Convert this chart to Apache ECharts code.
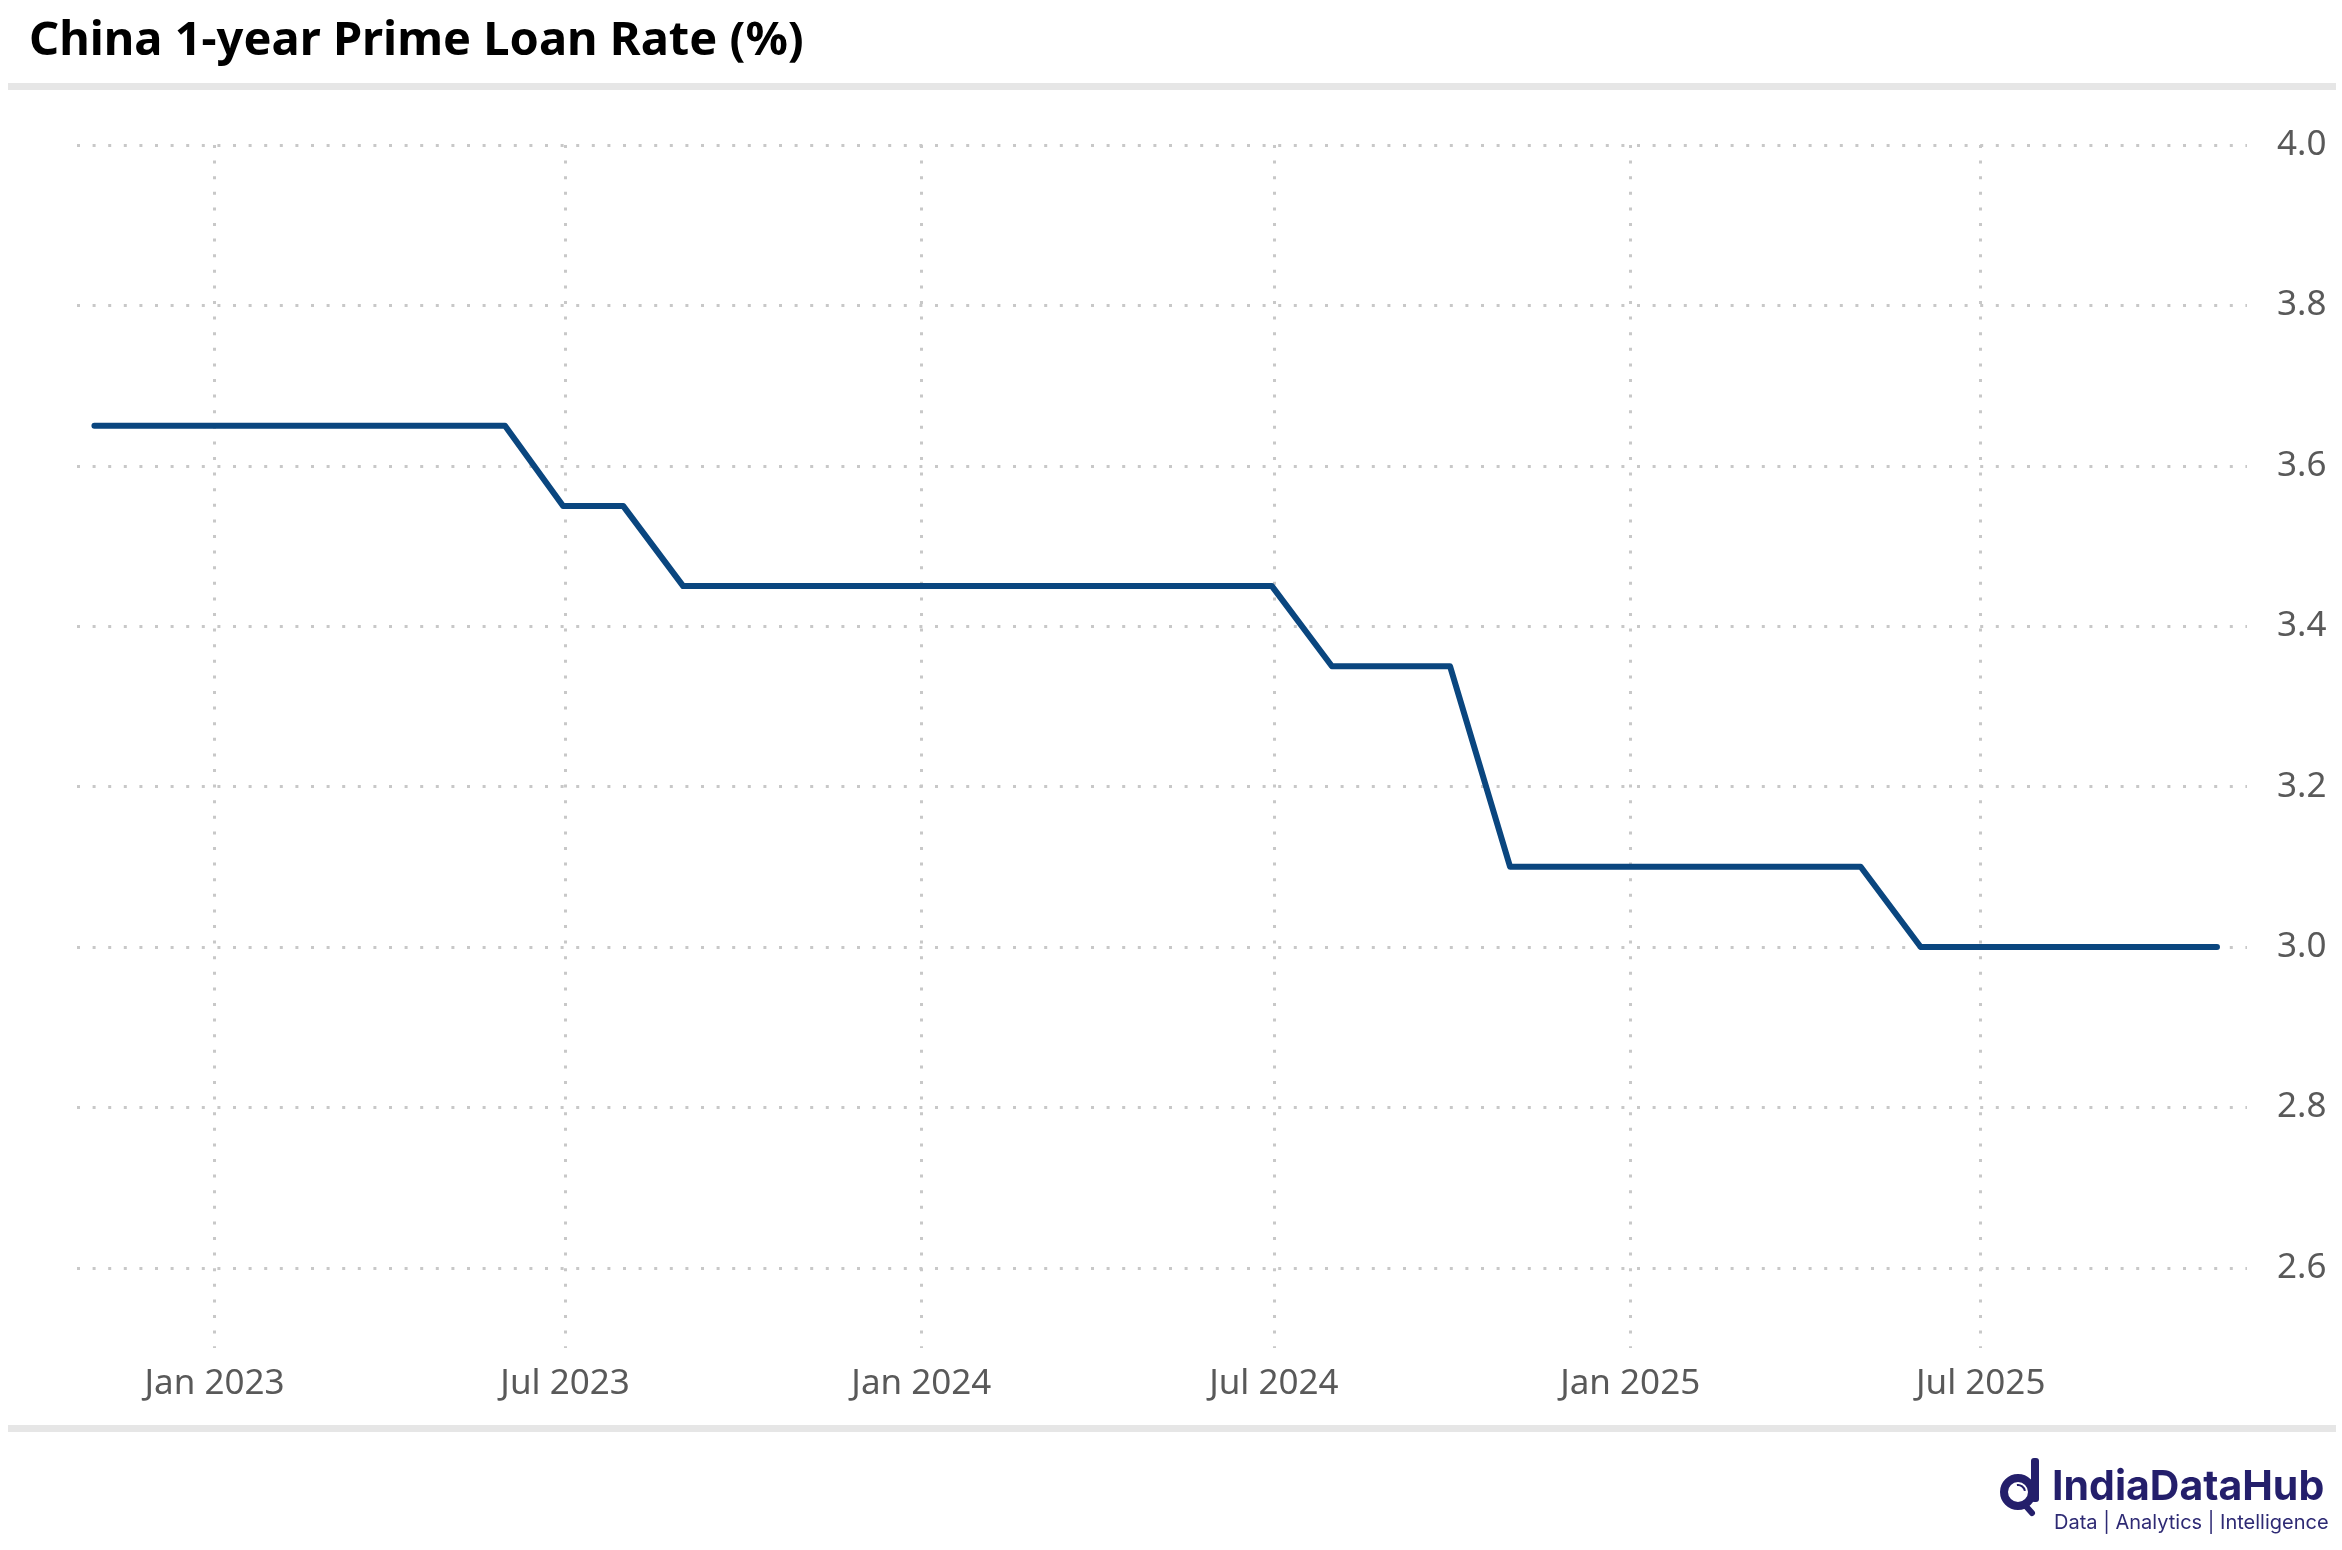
<!DOCTYPE html>
<html>
<head>
<meta charset="utf-8">
<script src="https://cdn.jsdelivr.net/npm/echarts@6/dist/echarts.min.js"></script>
<style>
html,body{margin:0;padding:0;background:#fff;}
#chart{width:2342px;height:1550px;}
</style>
</head>
<body>
<div id="chart"></div>
<script>
// ---- data ----
const titleText = 'China 1-year Prime Loan Rate (%)';
const dates = [
  '2022-10-31','2022-11-30','2022-12-31',
  '2023-01-31','2023-02-28','2023-03-31','2023-04-30','2023-05-31','2023-06-30',
  '2023-07-31','2023-08-31','2023-09-30','2023-10-31','2023-11-30','2023-12-31',
  '2024-01-31','2024-02-29','2024-03-31','2024-04-30','2024-05-31','2024-06-30',
  '2024-07-31','2024-08-31','2024-09-30','2024-10-31','2024-11-30','2024-12-31',
  '2025-01-31','2025-02-28','2025-03-31','2025-04-30','2025-05-31','2025-06-30',
  '2025-07-31','2025-08-31','2025-09-30','2025-10-31'
];
const rates = [
  3.65,3.65,3.65,
  3.65,3.65,3.65,3.65,3.65,3.55,
  3.55,3.45,3.45,3.45,3.45,3.45,
  3.45,3.45,3.45,3.45,3.45,3.45,
  3.35,3.35,3.35,3.10,3.10,3.10,
  3.10,3.10,3.10,3.10,3.00,3.00,
  3.00,3.00,3.00,3.00
];
const xTickDates = ['2023-01-01','2023-07-01','2024-01-01','2024-07-01','2025-01-01','2025-07-01'];
const xTickLabels = ['Jan 2023','Jul 2023','Jan 2024','Jul 2024','Jan 2025','Jul 2025'];
const yTickValues = [2.6, 2.8, 3.0, 3.2, 3.4, 3.6, 3.8, 4.0];
const xRange = ['2022-10-22T00:00:00Z','2025-11-15T12:00:00Z'];
const yRange = [2.5, 4.0];

// ---- build ----
function ts(s){ return s.length > 10 ? Date.parse(s) : Date.parse(s + 'T00:00:00Z'); }
const seriesData = dates.map((d, i) => [ts(d), rates[i]]);
const tickTs = xTickDates.map(ts);

const chart = echarts.init(document.getElementById('chart'), null, {renderer: 'canvas'});
const gridColor = '#c8c8c8';
const labelFont = '"Noto Sans", "Open Sans", sans-serif';
const navy = '#241f6b';

chart.setOption({
  animation: false,
  backgroundColor: '#ffffff',
  title: {
    text: titleText,
    left: 24, top: 13,
    textStyle: {fontFamily: labelFont, fontWeight: 700, fontSize: 47, color: '#000'}
  },
  grid: {left: 77, right: 95, top: 145, bottom: 202, containLabel: false},
  xAxis: {
    type: 'value',
    min: ts(xRange[0]), max: ts(xRange[1]),
    axisLine: {show: false},
    axisTick: {show: false, customValues: tickTs},
    axisLabel: {
      customValues: tickTs,
      margin: 19,
      fontFamily: labelFont, fontSize: 35, color: '#595959',
      formatter: function (v) {
        const idx = tickTs.indexOf(v);
        return idx >= 0 ? xTickLabels[idx] : '';
      }
    },
    splitLine: {show: true, lineStyle: {color: gridColor, width: 3, type: [3, 12.6]}}
  },
  yAxis: {
    type: 'value',
    position: 'right',
    min: yRange[0], max: yRange[1], interval: 0.1,
    axisLine: {show: false},
    axisTick: {show: false},
    axisLabel: {
      margin: 30, align: 'left',
      fontFamily: labelFont, fontSize: 35, color: '#595959',
      formatter: function (v) {
        const r = Math.round(v * 10) / 10;
        return yTickValues.some(t => Math.abs(t - r) < 1e-6) ? r.toFixed(1) : '';
      }
    },
    splitLine: {show: true, lineStyle: {color: ['rgba(0,0,0,0)', gridColor], width: 3, type: [3, 12.6]}}
  },
  series: [{
    type: 'line',
    data: seriesData,
    showSymbol: false,
    symbol: 'none',
    lineStyle: {color: '#0a467f', width: 6, cap: 'round', join: 'round'},
    itemStyle: {color: '#0a467f'}
  }],
  graphic: [
    {type: 'rect', shape: {x: 8, y: 83, width: 2328, height: 7}, style: {fill: '#e6e6e6'}, silent: true},
    {type: 'rect', shape: {x: 8, y: 1425, width: 2328, height: 7}, style: {fill: '#e6e6e6'}, silent: true},
    // logo icon
    {type: 'circle', shape: {cx: 2018, cy: 1492, r: 14}, style: {fill: 'none', stroke: navy, lineWidth: 8}, silent: true},
    {type: 'rect', shape: {x: 2031, y: 1458, width: 8, height: 44, r: 3}, style: {fill: navy}, silent: true},
    {type: 'line', shape: {x1: 2024, y1: 1504, x2: 2032, y2: 1513}, style: {stroke: navy, lineWidth: 6, lineCap: 'round'}, silent: true},
    {type: 'arc', shape: {cx: 2018, cy: 1492, r: 7, startAngle: -Math.PI * 0.55, endAngle: -Math.PI * 0.05}, style: {stroke: navy, lineWidth: 2, fill: 'none'}, silent: true},
    {type: 'text', left: 2052, top: 1467, style: {text: 'IndiaDataHub', font: '700 41px "Inter", "Noto Sans", sans-serif', fill: navy}, silent: true},
    {type: 'text', left: 2054, top: 1513, style: {text: 'Data | Analytics | Intelligence', font: '400 20px "Inter", "Noto Sans", sans-serif', fill: '#2e2a74'}, silent: true}
  ]
});
</script>
</body>
</html>
